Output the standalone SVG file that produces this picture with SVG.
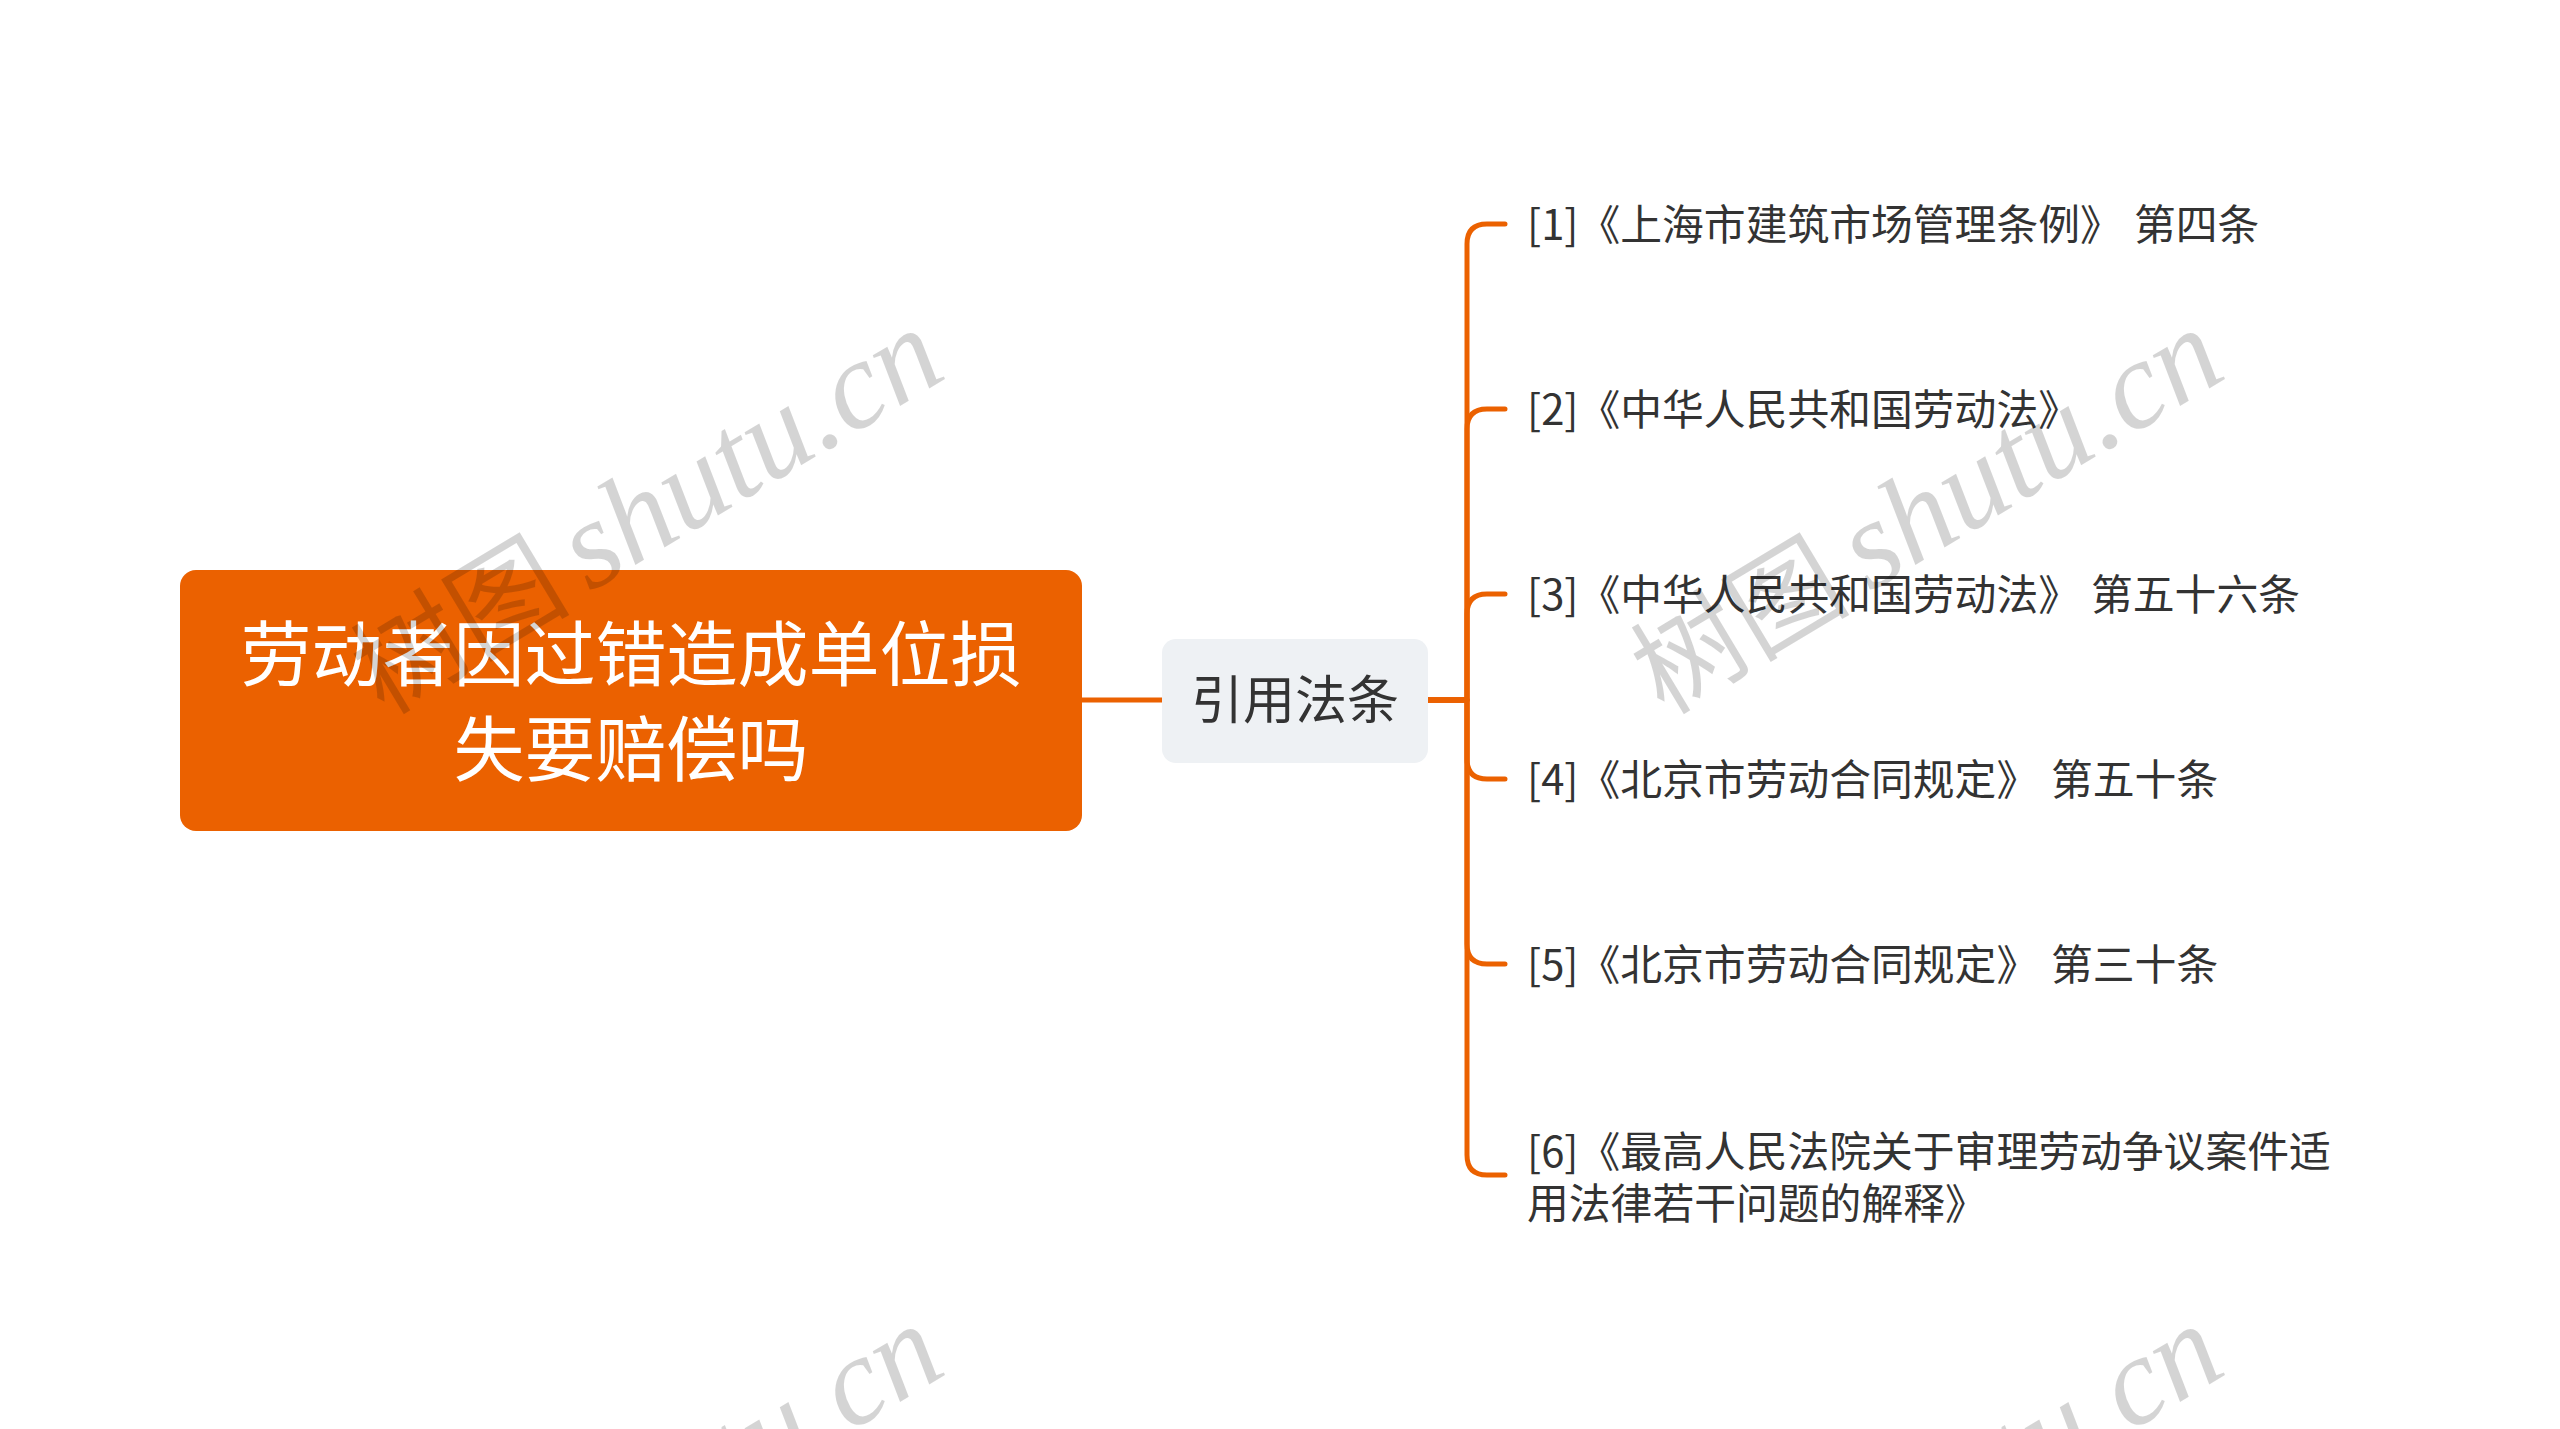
<svg xmlns="http://www.w3.org/2000/svg" width="2560" height="1429" viewBox="0 0 2560 1429">
<style>
.conn{fill:none;stroke:#EB6100;stroke-width:5;stroke-linecap:round;stroke-linejoin:round}
.main-box{fill:#EB6100}
.main-txt{font-family:"Noto Sans CJK SC",sans-serif;font-size:71px;fill:#FFFFFF;text-anchor:middle}
.mid-box{fill:#EEF1F4}
.mid-txt{font-family:"Noto Sans CJK SC",sans-serif;font-size:52px;fill:#333333;text-anchor:middle}
.leaf-txt{font-family:"Noto Sans CJK SC",sans-serif;font-size:41.8px;fill:#333333}
.wm-cjk{font-family:"Noto Sans CJK SC",sans-serif;font-size:110px}
.wm-lat{font-family:"Liberation Serif",serif;font-style:italic;font-size:125px}
.wm{fill:#000000;fill-opacity:0.17}
</style>
<rect x="0" y="0" width="2560" height="1429" fill="#FFFFFF"/>
<g id="connectors">
<path class="conn" d="M1082,700 H1162"/>
<path class="conn" d="M1428,700 H1467 V244 Q1467,224 1487,224 H1505"/>
<path class="conn" d="M1428,700 H1467 V429 Q1467,409 1487,409 H1505"/>
<path class="conn" d="M1428,700 H1467 V614 Q1467,594 1487,594 H1505"/>
<path class="conn" d="M1428,700 H1467 V759 Q1467,779 1487,779 H1505"/>
<path class="conn" d="M1428,700 H1467 V944 Q1467,964 1487,964 H1505"/>
<path class="conn" d="M1428,700 H1467 V1155 Q1467,1175 1487,1175 H1505"/>
</g>
<g id="node-main">
<rect class="main-box" x="180" y="570" width="902" height="261" rx="16"/>
<text class="main-txt" x="631" y="680">劳动者因过错造成单位损</text>
<text class="main-txt" x="631" y="775">失要赔偿吗</text>
</g>
<g id="node-center">
<rect class="mid-box" x="1162" y="639" width="266" height="124" rx="14"/>
<text class="mid-txt" x="1295" y="719">引用法条</text>
</g>
<g id="leaf-1">
<text class="leaf-txt" x="1527" y="240">[1]《上海市建筑市场管理条例》 <tspan x="2134">第四条</tspan></text>
</g>
<g id="leaf-2">
<text class="leaf-txt" x="1527" y="425">[2]《中华人民共和国劳动法》</text>
</g>
<g id="leaf-3">
<text class="leaf-txt" x="1527" y="610">[3]《中华人民共和国劳动法》 <tspan x="2091">第五十六条</tspan></text>
</g>
<g id="leaf-4">
<text class="leaf-txt" x="1527" y="795">[4]《北京市劳动合同规定》 <tspan x="2051">第五十条</tspan></text>
</g>
<g id="leaf-5">
<text class="leaf-txt" x="1527" y="980">[5]《北京市劳动合同规定》 <tspan x="2051">第三十条</tspan></text>
</g>
<g id="leaf-6">
<text class="leaf-txt" x="1527" y="1167">[6]《最高人民法院关于审理劳动争议案件适</text>
<text class="leaf-txt" x="1527" y="1219">用法律若干问题的解释》</text>
</g>
<g id="watermarks" class="wm">
<text transform="translate(384,716) rotate(-31)"><tspan class="wm-cjk">树图</tspan><tspan class="wm-lat" dx="20">shutu.cn</tspan></text>
<text transform="translate(1664,716) rotate(-31)"><tspan class="wm-cjk">树图</tspan><tspan class="wm-lat" dx="20">shutu.cn</tspan></text>
<text transform="translate(384,1712) rotate(-31)"><tspan class="wm-cjk">树图</tspan><tspan class="wm-lat" dx="20">shutu.cn</tspan></text>
<text transform="translate(1664,1712) rotate(-31)"><tspan class="wm-cjk">树图</tspan><tspan class="wm-lat" dx="20">shutu.cn</tspan></text>
</g>
</svg>
